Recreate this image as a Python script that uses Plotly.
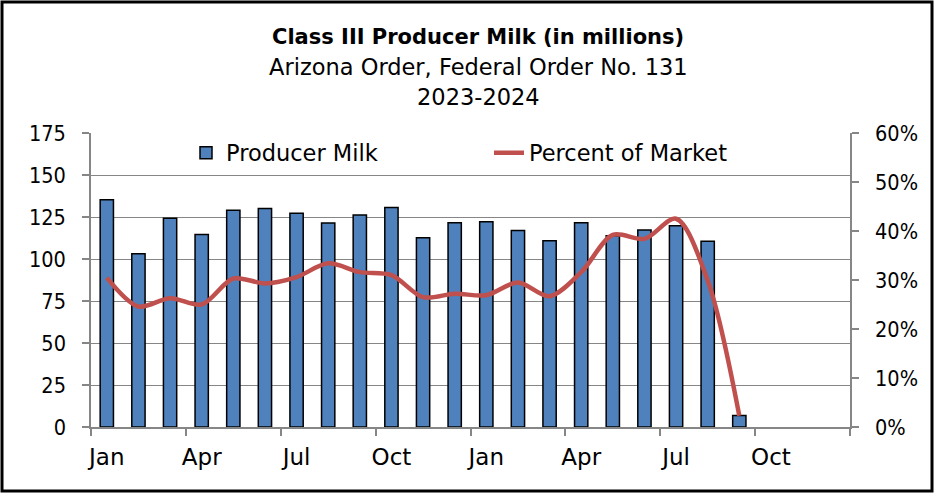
import plotly.graph_objects as go

# ---- data ----
month_index = list(range(21))  # Jan 2023 .. Sep 2024
producer_milk = [135.3, 103.1, 124.2, 114.6, 129.0, 130.1, 127.2, 121.4, 126.2, 130.6,
                 112.6, 121.6, 122.2, 117.0, 110.9, 121.6, 113.8, 117.2, 119.8, 110.5, 6.8]
percent_of_market = [30.5, 24.6, 26.3, 25.0, 30.3, 29.3, 30.6, 33.4, 31.6, 31.0,
                     26.5, 27.2, 26.9, 29.5, 26.7, 31.6, 39.2, 38.4, 42.5, 29.9, 2.3]
tick_positions = [0, 3, 6, 9, 12, 15, 18, 21]
tick_labels = ["Jan", "Apr", "Jul", "Oct", "Jan", "Apr", "Jul", "Oct"]
n_slots = 24
title_lines = ["<b>Class III Producer Milk (in millions)</b>",
               "Arizona Order, Federal Order No. 131",
               "2023-2024"]

FONT = "DejaVu Sans"
NUMFONT = "DejaVu Sans Condensed"
GRAY = "#868686"

fig = go.Figure()
fig.add_trace(go.Bar(
    x=month_index, y=producer_milk, name="Producer Milk",
    marker=dict(color="#4F81BD", line=dict(color="black", width=1.5)),
    width=0.42, yaxis="y",
))
fig.add_trace(go.Scatter(
    x=month_index, y=percent_of_market, name="Percent of Market",
    mode="lines", line=dict(color="#C0504D", width=4.5, shape="spline", smoothing=0.9),
    yaxis="y2",
))

L, R, T, B = 91, 85, 133, 67
W, H = 935, 494
pw, ph = W - L - R, H - T - B

def px_x(px):
    return (px - L) / pw

def px_y(py):
    return (H - B - py) / ph

fig.update_layout(
    width=W, height=H,
    margin=dict(l=L, r=R, t=T, b=B),
    paper_bgcolor="white", plot_bgcolor="white",
    font=dict(family=FONT, size=21, color="black"),
    showlegend=True,
    legend=dict(orientation="h", x=px_x(186), xanchor="left", y=px_y(153), yanchor="middle",
                bgcolor="rgba(255,255,255,0)", font=dict(size=22.5, family=FONT),
                entrywidth=258, entrywidthmode="pixels", traceorder="normal"),
    xaxis=dict(
        range=[-0.5, n_slots - 0.5],
        tickvals=tick_positions, ticktext=tick_labels,
        ticks="", showgrid=False, zeroline=False,
        showline=True, linecolor=GRAY, linewidth=1.5,
        minor=dict(tickvals=[i - 0.5 for i in range(0, n_slots + 1, 3)],
                   ticks="outside", ticklen=7, tickcolor=GRAY, tickwidth=1.5, showgrid=False),
        tickfont=dict(size=23, family=FONT), ticklabelstandoff=9,
    ),
    yaxis=dict(
        range=[0, 175], dtick=25, tick0=0,
        showgrid=True, gridcolor=GRAY, gridwidth=1.3,
        showline=True, linecolor=GRAY, linewidth=1.5,
        ticks="outside", ticklen=7, tickcolor=GRAY, tickwidth=1.5,
        zeroline=False, tickfont=dict(size=21.5, family=NUMFONT), ticklabelstandoff=12,
    ),
    yaxis2=dict(
        range=[0, 60], dtick=10, tick0=0, ticksuffix="%",
        overlaying="y", side="right", showgrid=False,
        showline=True, linecolor=GRAY, linewidth=1.5,
        ticks="outside", ticklen=7, tickcolor=GRAY, tickwidth=1.5,
        zeroline=False, tickfont=dict(size=21.5, family=NUMFONT), ticklabelstandoff=12,
    ),
)

# title lines
title_specs = [(title_lines[0], 37, 21), (title_lines[1], 67, 22.5), (title_lines[2], 97, 22.5)]
for text, cy, size in title_specs:
    fig.add_annotation(text=text, xref="paper", yref="paper", x=px_x(478), y=px_y(cy),
                       xanchor="center", yanchor="middle", showarrow=False,
                       font=dict(family=FONT, size=size, color="black"))

# outer frame around the whole chart
fig.add_shape(type="rect", xref="paper", yref="paper",
              x0=px_x(2), x1=px_x(W - 3), y0=px_y(H - 3), y1=px_y(2),
              line=dict(color="black", width=3), fillcolor="rgba(0,0,0,0)", layer="above")

fig.write_html("out.html", config={"displayModeBar": False},
               post_script="document.body.style.margin='0';document.body.style.overflow='hidden';")
